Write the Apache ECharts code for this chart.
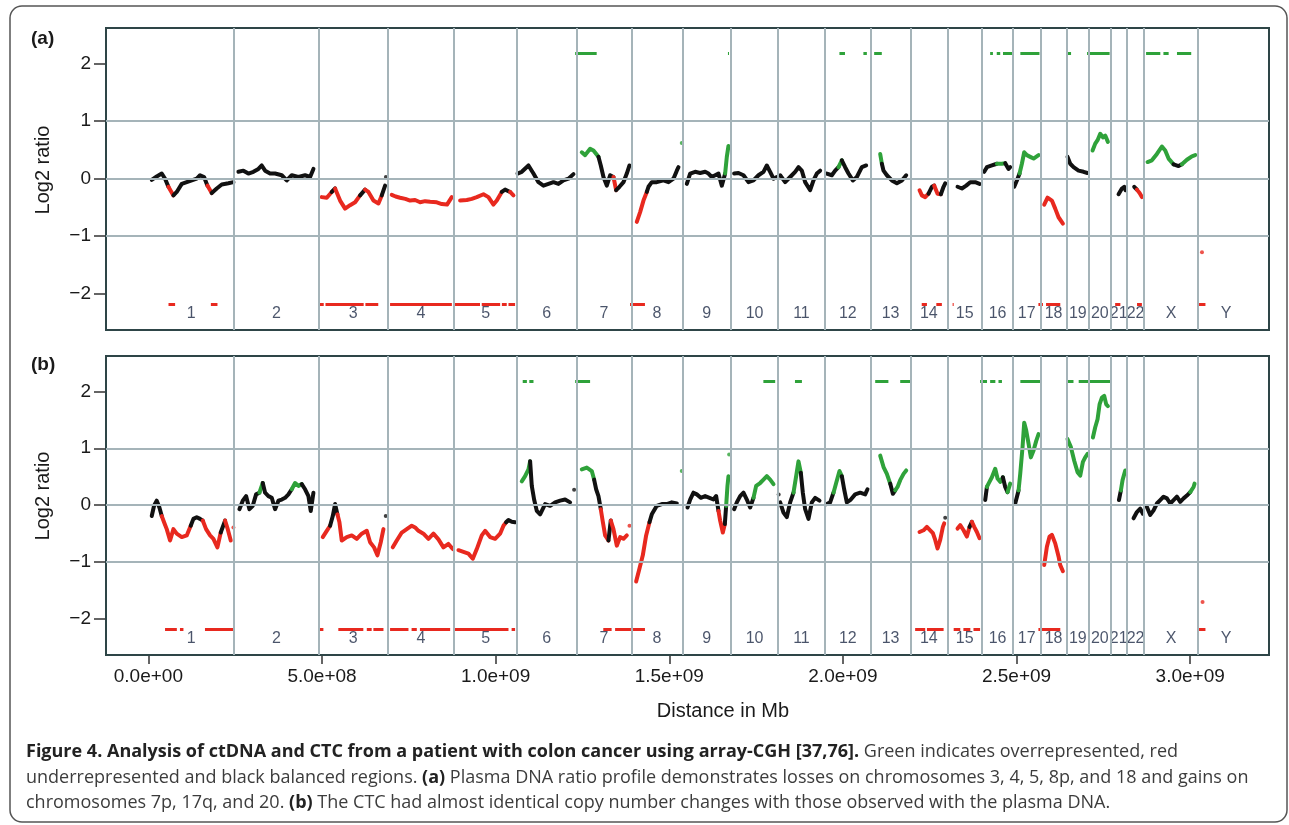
<!DOCTYPE html>
<html>
<head>
<meta charset="utf-8">
<script src="https://cdn.jsdelivr.net/npm/echarts@6.0.0/dist/echarts.min.js"></script>
<style>
  html, body { margin: 0; padding: 0; background: #fff; }
  #main { width: 1289px; height: 825px; }
</style>
</head>
<body>
<div id="main"></div>
<script>
// chromosomes (hg18 sizes, Mb)
const chromNames = ['1','2','3','4','5','6','7','8','9','10','11','12','13','14','15','16','17','18','19','20','21','22','X','Y'];
const chromSizes = [247.2,242.8,199.5,191.3,180.9,170.9,158.8,146.3,140.3,135.4,134.5,132.3,114.1,106.4,100.3,88.8,78.8,76.1,63.8,62.4,46.9,49.7,154.9,57.8];

const xTicks = [0, 5e8, 1e9, 1.5e9, 2e9, 2.5e9, 3e9];
const yTicks = [-2, -1, 0, 1, 2];

// smoothed log2 ratio profile, [position Mb, log2 ratio, class] k=balanced r=loss g=gain
// (a) plasma DNA
const profileA = [
  [9.7,-0.02,'k'],[24.1,0.04,'k'],[38.5,0.09,'k'],[48.1,0,'k'],[57.7,-0.14,'k'],[72.1,-0.29,'r'],[81.7,-0.23,'k'],[96.1,-0.09,'k'],[110.5,-0.06,'k'],[124.9,-0.03,'k'],[139.3,0,'k'],[148.9,0.06,'k'],[160.4,0.03,'k'],[170,-0.12,'k'],[182.5,-0.25,'r'],[196.9,-0.17,'k'],[211.3,-0.1,'k'],[230.5,-0.08,'k'],[245,-0.06,'k'],
  [259.3,0.12,'k'],[273.7,0.14,'k'],[288.1,0.09,'k'],[302.5,0.12,'k'],[316.9,0.17,'k'],[326.5,0.23,'k'],[336.1,0.14,'k'],[350.5,0.09,'k'],[364.9,0.09,'k'],[384.1,0.06,'k'],[398.5,-0.03,'k'],[412.9,0.06,'k'],[432.1,0.03,'k'],[451.3,0.06,'k'],[465.7,0.03,'k'],[475.3,0.17,'k'],
  [499.3,-0.32,'r'],[513.7,-0.33,'r'],[528.1,-0.23,'r'],[537.7,-0.17,'k'],[552.1,-0.38,'r'],[566.5,-0.52,'r'],[580.9,-0.46,'r'],[595.3,-0.41,'r'],[609.7,-0.29,'r'],[624.1,-0.19,'k'],[633.7,-0.23,'r'],[648.1,-0.38,'r'],[662.5,-0.43,'r'],[672.1,-0.29,'r'],[681.7,-0.12,'k'],
  [700.9,-0.28,'r'],[712,-0.31,'r'],[724.9,-0.33,'r'],[740,-0.35,'r'],[753.7,-0.38,'r'],[768,-0.37,'r'],[782.5,-0.41,'r'],[797,-0.39,'r'],[811.3,-0.4,'r'],[830.5,-0.41,'r'],[845,-0.44,'r'],[860,-0.45,'r'],[873.7,-0.32,'r'],
  [897.7,-0.38,'r'],[916.9,-0.37,'r'],[931.3,-0.35,'r'],[945.7,-0.32,'r'],[964.9,-0.27,'r'],[979.3,-0.32,'r'],[993.7,-0.45,'r'],[1003.3,-0.38,'r'],[1017.7,-0.23,'r'],[1027.3,-0.19,'k'],[1041.7,-0.23,'k'],[1051.3,-0.29,'r'],
  [1063,0.09,'k'],[1075.3,0.12,'k'],[1094.5,0.23,'k'],[1108.9,0.09,'k'],[1123.3,-0.06,'k'],[1137.7,-0.12,'k'],[1152.1,-0.09,'k'],[1166.5,-0.06,'k'],[1180.9,-0.09,'k'],[1195.3,-0.03,'k'],[1209.7,0,'k'],[1224.1,0.08,'k'],
  [1248.1,0.46,'g'],[1257.7,0.41,'g'],[1272.1,0.52,'g'],[1281.7,0.49,'g'],[1296.1,0.38,'g'],[1302.8,0.23,'k'],[1310.5,0.03,'k'],[1320.1,-0.12,'k'],[1329.7,0.06,'k'],[1339.3,0.03,'k'],[1347,-0.2,'r'],[1356.6,-0.14,'k'],[1368.1,-0.06,'k'],[1377.7,0.09,'k'],[1385.4,0.23,'k'],
  [1406.5,-0.75,'r'],[1416.1,-0.58,'r'],[1425.7,-0.38,'r'],[1435.3,-0.23,'r'],[1440.1,-0.14,'k'],[1449.7,-0.06,'k'],[1464.1,-0.06,'k'],[1483.3,-0.03,'k'],[1497.7,-0.06,'k'],[1512.1,0,'k'],[1521.7,0.14,'k'],[1526.5,0.2,'k'],
  [1550.5,-0.09,'k'],[1560.1,0.09,'k'],[1574.5,0.12,'k'],[1588.9,0.1,'k'],[1603.3,0.12,'k'],[1612.9,0.09,'k'],[1622.5,0.03,'k'],[1632.1,0.06,'k'],[1641.7,0.09,'k'],[1651.3,-0.12,'k'],[1660.9,0.09,'k'],[1665.7,0.38,'g'],[1670.5,0.57,'g'],
  [1686.8,0.09,'k'],[1699.3,0.1,'k'],[1713.7,0.06,'k'],[1728.1,-0.06,'k'],[1742.5,-0.03,'k'],[1756.9,0.06,'k'],[1771.3,0.12,'k'],[1780.9,0.23,'k'],[1790.5,0.12,'k'],[1800.1,0,'k'],[1809.7,0.03,'k'],
  [1819.3,0.06,'k'],[1833.7,-0.06,'k'],[1848.1,0.03,'k'],[1862.5,0.12,'k'],[1872.1,0.2,'k'],[1881.7,0.14,'k'],[1891.3,-0.06,'k'],[1905.7,-0.2,'k'],[1915.3,-0.03,'k'],[1924.9,0.09,'k'],[1934.5,0.14,'k'],
  [1953.7,0.09,'k'],[1968.1,0.06,'k'],[1977.7,0.14,'k'],[1987.3,0.2,'k'],[1996.9,0.32,'g'],[2006.5,0.2,'k'],[2016.1,0.09,'k'],[2028.6,-0.03,'k'],[2040.1,0.03,'k'],[2054.5,0.2,'k'],[2067,0.23,'k'],
  [2107.4,0.43,'g'],[2112.2,0.26,'g'],[2117,0.14,'k'],[2126.6,0.06,'k'],[2141,-0.03,'k'],[2155.4,-0.08,'k'],[2169.8,-0.03,'k'],[2182.3,0.06,'k'],
  [2220.7,-0.2,'k'],[2227.4,-0.29,'r'],[2237,-0.32,'r'],[2246.6,-0.26,'r'],[2256.2,-0.14,'k'],[2262.9,-0.12,'k'],[2272.5,-0.26,'r'],[2282.1,-0.27,'r'],[2289.8,-0.14,'k'],[2294.6,-0.08,'k'],
  [2330.1,-0.14,'k'],[2342.6,-0.17,'k'],[2355.1,-0.12,'k'],[2366.6,-0.06,'k'],[2381,-0.06,'k'],[2393.5,-0.09,'k'],
  [2406.9,0.12,'k'],[2414.6,0.2,'k'],[2429,0.23,'k'],[2443.4,0.26,'k'],[2457.8,0.26,'g'],[2467.4,0.27,'g'],[2477,0.17,'k'],[2481.8,0.2,'k'],
  [2493.3,-0.14,'k'],[2501,-0.03,'k'],[2508.7,0.09,'k'],[2515.4,0.26,'g'],[2522.1,0.46,'g'],[2529.8,0.41,'g'],[2539.4,0.38,'g'],[2549,0.35,'g'],[2563.4,0.41,'g'],
  [2579.7,-0.45,'r'],[2589.3,-0.33,'r'],[2601.8,-0.38,'r'],[2611.4,-0.52,'r'],[2621,-0.67,'r'],[2633.5,-0.78,'r'],
  [2646.9,0.38,'g'],[2654.6,0.26,'k'],[2664.2,0.2,'k'],[2678.6,0.14,'k'],[2693,0.12,'k'],[2704,0.1,'k'],
  [2718.9,0.49,'g'],[2726.6,0.61,'g'],[2733.3,0.67,'g'],[2741,0.78,'g'],[2748.7,0.72,'g'],[2755.4,0.75,'g'],[2763.1,0.64,'g'],
  [2793.8,-0.27,'r'],[2803.4,-0.17,'k'],[2810.1,-0.14,'k'],[2814,-0.2,'k'],
  [2838.9,-0.14,'k'],[2846.6,-0.19,'k'],[2854.3,-0.25,'r'],[2861,-0.32,'r'],
  [2877.3,0.29,'g'],[2889.8,0.32,'g'],[2904.2,0.43,'g'],[2918.6,0.56,'g'],[2928.2,0.49,'g'],[2937.8,0.35,'g'],[2952.2,0.25,'g'],[2966.6,0.22,'k'],[2976.2,0.25,'k'],[2990.6,0.33,'g'],[3005,0.39,'g'],[3014.6,0.41,'g']
];
const dotsA = [[684,0.03,'k'],[1536,0.62,'g'],[3034,-1.28,'r']];
const gainsA = [[1229,1291],[1669,1672],[1990,2006],[2059,2069],[2090,2112],[2424,2432],[2443,2453],[2461,2491],[2511,2566],[2645,2657],[2703,2768],[2873,2914],[2923,2938],[2962,3003]];
const lossesA = [[58,77],[180,199],[492,505],[510,620],[625,662],[696,874],[883,955],[960,1013],[1018,1032],[1037,1056],[1387,1430],[2227,2242],[2269,2285],[2316,2319],[2563,2576],[2585,2626],[2784,2799],[2847,2861],[3024,3044]];

// (b) CTC
const profileB = [
  [9.7,-0.19,'k'],[16.4,-0.01,'k'],[24.1,0.08,'k'],[31.8,-0.04,'k'],[38.5,-0.19,'k'],[45.2,-0.3,'r'],[52.9,-0.42,'r'],[62.5,-0.62,'r'],[72.1,-0.42,'r'],[81.7,-0.5,'r'],[96.1,-0.56,'r'],[110.5,-0.53,'r'],[122,-0.36,'r'],[129.7,-0.24,'k'],[139.3,-0.21,'k'],[148.9,-0.24,'k'],[156.6,-0.27,'k'],[166.2,-0.42,'r'],[177.7,-0.53,'r'],[187.3,-0.59,'r'],[198.8,-0.74,'r'],[208.4,-0.48,'r'],[220.9,-0.27,'k'],[228.6,-0.42,'r'],[237.2,-0.62,'r'],
  [262.2,-0.07,'k'],[271.8,0.08,'k'],[281.4,0.16,'k'],[291,-0.07,'k'],[300.6,-0.01,'k'],[310.2,0.19,'k'],[319.8,0.22,'k'],[329.4,0.39,'g'],[336.1,0.22,'k'],[345.7,0.16,'k'],[355.3,0.13,'k'],[364.9,-0.07,'k'],[374.5,0.08,'k'],[384.1,0.1,'k'],[393.7,0.13,'k'],[403.3,0.19,'k'],[412.9,0.28,'k'],[422.5,0.39,'g'],[432.1,0.34,'g'],[441.7,0.37,'g'],[451.3,0.28,'k'],[460.9,0.16,'k'],[467.6,-0.1,'k'],[475.3,0.22,'k'],
  [502.2,-0.56,'r'],[513.7,-0.45,'r'],[523.3,-0.36,'r'],[531,-0.19,'k'],[537.7,0.02,'k'],[544.4,-0.16,'k'],[550.2,-0.3,'r'],[556.9,-0.62,'r'],[571.3,-0.56,'r'],[585.7,-0.53,'r'],[600.1,-0.59,'r'],[614.5,-0.5,'r'],[628.9,-0.45,'r'],[638.5,-0.65,'r'],[650,-0.74,'r'],[659.6,-0.88,'r'],[669.2,-0.65,'r'],[676.9,-0.42,'r'],
  [703.8,-0.74,'r'],[715.3,-0.62,'r'],[729.7,-0.48,'r'],[744.1,-0.42,'r'],[758.5,-0.36,'r'],[768.1,-0.39,'r'],[777.7,-0.45,'r'],[792.1,-0.5,'r'],[806.5,-0.59,'r'],[820.9,-0.5,'r'],[835.3,-0.6,'r'],[849.7,-0.74,'r'],[864,-0.68,'r'],[876.6,-0.77,'r'],
  [892.9,-0.79,'r'],[907.3,-0.82,'r'],[921.7,-0.85,'r'],[934.2,-0.94,'r'],[945.7,-0.77,'r'],[960.1,-0.53,'r'],[969.7,-0.45,'r'],[984.1,-0.56,'r'],[998.5,-0.59,'r'],[1012.9,-0.5,'r'],[1022.5,-0.36,'r'],[1030.2,-0.3,'r'],[1036.9,-0.26,'k'],[1046.5,-0.29,'k'],[1056.1,-0.3,'k'],
  [1075.3,0.42,'g'],[1084.9,0.51,'g'],[1094.5,0.63,'g'],[1099.3,0.77,'g'],[1104.1,0.34,'k'],[1110.8,0.1,'k'],[1118.5,-0.1,'k'],[1128.1,-0.16,'k'],[1142.5,0.02,'k'],[1156.9,-0.01,'k'],[1171.3,0.05,'k'],[1185.7,0.08,'k'],[1200.1,0.1,'k'],[1214.5,0.05,'k'],
  [1248.1,0.63,'g'],[1262.5,0.66,'g'],[1276.9,0.6,'g'],[1283.6,0.45,'g'],[1289.4,0.28,'k'],[1296.1,0.16,'k'],[1302.8,-0.07,'k'],[1308.6,-0.29,'r'],[1315.3,-0.53,'r'],[1324.9,-0.62,'r'],[1331.6,-0.27,'k'],[1339.3,-0.42,'r'],[1348.9,-0.71,'r'],[1358.5,-0.56,'r'],[1368.1,-0.59,'r'],[1377.7,-0.53,'r'],
  [1404.6,-1.34,'r'],[1414.2,-1.11,'r'],[1423.8,-0.88,'r'],[1433.4,-0.53,'r'],[1443,-0.3,'r'],[1449.7,-0.16,'k'],[1464.1,-0.01,'k'],[1478.5,0.02,'k'],[1492.9,0.02,'k'],[1507.3,0.05,'k'],[1521.7,0.03,'k'],
  [1552.4,-0.04,'k'],[1560.1,0.1,'k'],[1569.7,0.22,'k'],[1579.3,0.19,'k'],[1590.8,0.13,'k'],[1603.3,0.16,'k'],[1615.8,0.13,'k'],[1627.3,0.1,'k'],[1635,0.16,'k'],[1641.7,-0.1,'k'],[1646.5,-0.27,'r'],[1654.2,-0.48,'r'],[1660,-0.33,'r'],[1663.8,-0.01,'k'],[1667.6,0.34,'g'],[1670.5,0.51,'g'],
  [1686.8,-0.07,'k'],[1694.5,0.05,'k'],[1704.1,0.16,'k'],[1713.7,0.22,'k'],[1723.3,0.1,'k'],[1732.9,-0.04,'k'],[1742.5,0.13,'k'],[1750.2,0.34,'g'],[1761.7,0.39,'g'],[1771.3,0.45,'g'],[1780.9,0.51,'g'],[1790.5,0.45,'g'],[1800.1,0.37,'g'],
  [1819.3,0.05,'k'],[1828.9,-0.13,'k'],[1838.5,-0.21,'k'],[1848.1,0.05,'k'],[1857.7,0.22,'k'],[1865.4,0.51,'g'],[1872.1,0.77,'g'],[1878.8,0.57,'g'],[1884.6,0.22,'k'],[1891.3,-0.07,'k'],[1900.9,-0.24,'k'],[1910.5,0.05,'k'],[1920.1,0.13,'k'],[1932.6,0.08,'k'],
  [1953.7,0.02,'k'],[1963.3,0.05,'k'],[1972.9,0.22,'k'],[1980.6,0.39,'g'],[1990.2,0.6,'g'],[1996.9,0.51,'g'],[2003.6,0.28,'k'],[2011.3,0.05,'k'],[2022.8,0.1,'k'],[2035.3,0.19,'k'],[2049.7,0.22,'k'],[2064.1,0.19,'k'],[2070.8,0.28,'k'],
  [2107.4,0.87,'g'],[2117,0.67,'g'],[2126.6,0.55,'g'],[2136.2,0.38,'g'],[2143.9,0.2,'k'],[2150.6,0.26,'k'],[2157.3,0.32,'g'],[2165,0.44,'g'],[2174.6,0.55,'g'],[2182.3,0.61,'g'],
  [2220.7,-0.47,'r'],[2232.2,-0.44,'r'],[2241.8,-0.38,'r'],[2251.4,-0.44,'r'],[2259.1,-0.49,'r'],[2265.8,-0.61,'r'],[2272.5,-0.76,'r'],[2280.2,-0.61,'r'],[2287.9,-0.38,'r'],[2291.7,-0.32,'r'],
  [2330.1,-0.41,'r'],[2337.8,-0.35,'r'],[2347.4,-0.44,'r'],[2357,-0.55,'r'],[2364.7,-0.38,'r'],[2371.4,-0.29,'k'],[2378.1,-0.38,'r'],[2385.8,-0.47,'r'],[2393.5,-0.58,'r'],
  [2409.8,0.09,'k'],[2414.6,0.32,'k'],[2419.4,0.38,'g'],[2429,0.49,'g'],[2438.6,0.64,'g'],[2445.3,0.47,'g'],[2453,0.41,'g'],[2460.7,0.49,'g'],[2467.4,0.32,'k'],[2474.1,0.23,'k'],[2481.8,0.38,'g'],
  [2496.2,0.03,'k'],[2505.8,0.26,'k'],[2510.6,0.55,'g'],[2517.3,1.02,'g'],[2522.1,1.45,'g'],[2527.9,1.31,'g'],[2534.6,1.08,'g'],[2541.3,0.84,'g'],[2549,0.96,'g'],[2556.7,1.13,'g'],[2563.4,1.25,'g'],
  [2579.7,-1.05,'r'],[2587.4,-0.73,'r'],[2595.1,-0.55,'r'],[2601.8,-0.52,'r'],[2611.4,-0.67,'r'],[2621,-0.9,'r'],[2625.8,-1.05,'r'],[2633.5,-1.16,'r'],
  [2646.9,1.16,'g'],[2656.5,1.02,'g'],[2666.1,0.78,'g'],[2675.7,0.58,'g'],[2683.4,0.52,'g'],[2691.1,0.76,'g'],[2697.8,0.84,'g'],[2704.5,0.9,'g'],
  [2719.9,1.19,'g'],[2726.6,1.37,'g'],[2733.3,1.51,'g'],[2739.1,1.77,'g'],[2745.8,1.89,'g'],[2752.5,1.92,'g'],[2758.3,1.77,'g'],[2763.1,1.74,'g'],
  [2794.8,0.09,'k'],[2800.5,0.26,'k'],[2805.3,0.44,'g'],[2813,0.61,'g'],
  [2837,-0.23,'k'],[2846.6,-0.12,'k'],[2856.2,-0.06,'k'],[2863.9,-0.15,'k'],
  [2875.4,-0.03,'k'],[2885,-0.17,'k'],[2894.6,-0.09,'k'],[2904.2,0.03,'k'],[2913.8,0.09,'k'],[2923.4,0.15,'k'],[2933,0.12,'k'],[2942.6,0.03,'k'],[2952.2,0.09,'k'],[2961.8,0.15,'k'],[2971.4,0.06,'k'],[2981,0.12,'k'],[2990.6,0.17,'k'],[3000.2,0.23,'k'],[3009.8,0.32,'g'],[3012.7,0.38,'g']
];
const dotsB = [[244.9,-0.39,'r'],[683.6,-0.19,'k'],[1226,0.27,'k'],[1385.4,-0.36,'r'],[1536,0.6,'g'],[1672.4,0.89,'g'],[1815,0.19,'k'],[2294.6,-0.22,'k'],[3035.7,-1.7,'r']];
const gainsB = [[1078,1090],[1097,1109],[1229,1272],[1771,1805],[1862,1882],[2093,2131],[2165,2194],[2395,2415],[2424,2439],[2448,2458],[2511,2568],[2645,2664],[2679,2770]];
const lossesB = [[48,82],[91,101],[163,247],[494,504],[547,619],[629,643],[648,677],[696,749],[758,773],[782,869],[883,1037],[1046,1056],[1310,1334],[1344,1430],[2208,2237],[2242,2290],[2319,2338],[2347,2367],[2376,2395],[2563,2626],[3024,3044]];

const COLORS = { k: '#111111', r: '#e8291f', g: '#2fa23a' };
const MB = 1e6;
const SEG_Y = 2.18;
const LABEL_Y = -2.34;
const X_MIN = -122 * MB, X_MAX = 3227 * MB;

const cum = [];
chromSizes.reduce((s, v) => { cum.push(s + v); return s + v; }, 0);
const chromOf = mb => { let i = 0; while (i < cum.length && mb >= cum[i]) i++; return i; };

// split profile into colour runs, broken at chromosome ends
function buildRuns(profile) {
  const runs = [];
  let cur = null;
  profile.forEach((p, i) => {
    const pt = [p[0] * MB, p[1]];
    const prev = profile[i - 1];
    if (!cur || chromOf(prev[0]) !== chromOf(p[0])) {
      cur = { c: p[2], pts: [pt] }; runs.push(cur);
    } else if (p[2] !== cur.c) {
      cur = { c: p[2], pts: [[prev[0] * MB, prev[1]], pt] }; runs.push(cur);
    } else {
      cur.pts.push(pt);
    }
  });
  // one-point runs are already covered by the run that follows them
  return runs.filter(r => r.pts.length > 1);
}

function sci(v) {
  if (v === 0) return '0.0e+00';
  const e = Math.floor(Math.log10(v) + 1e-9);
  return (v / Math.pow(10, e)).toFixed(1) + 'e+' + String(e).padStart(2, '0');
}

const labelData = chromNames.map((n, i) => {
  const start = i === 0 ? 0 : cum[i - 1];
  const end = i === chromNames.length - 1 ? 3184 : cum[i];
  return { name: n, value: [(start + end) / 2 * MB, LABEL_Y] };
});

function panelSeries(idx, profile, dots, gains, losses) {
  const ax = { xAxisIndex: idx, yAxisIndex: idx };
  return [
    Object.assign({
      type: 'line', data: [], silent: true, z: 1,
      markLine: {
        silent: true, symbol: ['none', 'none'], label: { show: false },
        lineStyle: { color: '#a5b4b9', width: 2, type: 'solid' },
        emphasis: { disabled: true },
        data: cum.slice(0, 23).map(b => ({ xAxis: b * MB })).concat([-1, 0, 1].map(v => ({ yAxis: v })))
      }
    }, ax),
    Object.assign({
      type: 'lines', coordinateSystem: 'cartesian2d', polyline: true, silent: true, z: 3,
      lineStyle: { width: 4, opacity: 1, join: 'round', cap: 'round' },
      data: buildRuns(profile).map(r => ({ coords: r.pts, lineStyle: { color: COLORS[r.c] } }))
    }, ax),
    Object.assign({
      type: 'lines', coordinateSystem: 'cartesian2d', silent: true, z: 3,
      lineStyle: { width: 3, opacity: 1 },
      data: gains.map(s => ({ coords: [[s[0] * MB, SEG_Y], [s[1] * MB, SEG_Y]], lineStyle: { color: COLORS.g } }))
        .concat(losses.map(s => ({ coords: [[s[0] * MB, -SEG_Y], [s[1] * MB, -SEG_Y]], lineStyle: { color: COLORS.r } })))
    }, ax),
    Object.assign({
      type: 'scatter', silent: true, z: 4, symbolSize: 4,
      data: dots.map(d => ({ value: [d[0] * MB, d[1]], itemStyle: { color: COLORS[d[2]] } }))
    }, ax),
    Object.assign({
      type: 'scatter', silent: true, z: 4, symbolSize: 1,
      itemStyle: { color: 'rgba(0,0,0,0)' },
      label: { show: true, position: 'inside', formatter: '{b}', color: '#1d2945', fontSize: 16, fontWeight: 500, fontFamily: 'Liberation Sans, Arial', textBorderWidth: 0 },
      data: labelData
    }, ax)
  ];
}

const FONT = 'Liberation Sans, Arial, sans-serif';
const CAP = "'Open Sans', 'Noto Sans', sans-serif";

function xAxisFor(idx, showLabels) {
  return {
    type: 'value', gridIndex: idx, min: X_MIN, max: X_MAX,
    axisLine: { show: false, onZero: false }, splitLine: { show: false },
    axisTick: { show: showLabels, customValues: xTicks, length: 9, lineStyle: { color: '#333', width: 1.5 } },
    axisLabel: { show: showLabels, customValues: xTicks, formatter: sci, margin: 12, fontSize: 19, color: '#1a1a1a', fontFamily: FONT }
  };
}
function yAxisFor(idx) {
  return {
    type: 'value', gridIndex: idx, min: -2.63, max: 2.62,
    axisLine: { show: false, onZero: false }, splitLine: { show: false },
    axisTick: { show: true, customValues: yTicks, length: 12, lineStyle: { color: '#333', width: 1.5 } },
    axisLabel: { customValues: yTicks, margin: 15, fontSize: 19, color: '#1a1a1a', fontFamily: FONT,
      formatter: v => (v < 0 ? '\u2212' + (-v) : String(v)) }
  };
}

const caption = [
  '{b|Figure 4. Analysis of ctDNA and CTC from a patient with colon cancer using array-CGH [37,76].}{n| Green indicates overrepresented, red}',
  '{n|underrepresented and black balanced regions. }{b|(a)}{n| Plasma DNA ratio profile demonstrates losses on chromosomes 3, 4, 5, 8p, and 18 and gains on}',
  '{n|chromosomes 7p, 17q, and 20. }{b|(b)}{n| The CTC had almost identical copy number changes with those observed with the plasma DNA.}'
];
const capRich = {
  b: { fontFamily: CAP, fontSize: 18, fontWeight: 'bold', fill: '#222' },
  n: { fontFamily: CAP, fontSize: 18, fill: '#3c3c3c' }
};

const chart = echarts.init(document.getElementById('main'), null, { renderer: 'canvas' });
chart.setOption({
  animation: false,
  backgroundColor: '#fff',
  grid: [
    { left: 106, top: 28, width: 1163, height: 302, show: true, borderColor: '#2e4547', borderWidth: 2, backgroundColor: 'transparent', z: 5 },
    { left: 106, top: 356, width: 1163, height: 299, show: true, borderColor: '#2e4547', borderWidth: 2, backgroundColor: 'transparent', z: 5 }
  ],
  xAxis: [xAxisFor(0, false), xAxisFor(1, true)],
  yAxis: [yAxisFor(0), yAxisFor(1)],
  series: panelSeries(0, profileA, dotsA, gainsA, lossesA).concat(panelSeries(1, profileB, dotsB, gainsB, lossesB)),
  graphic: [
    { type: 'rect', shape: { x: 10, y: 6, width: 1277, height: 816, r: 12 }, style: { fill: 'none', stroke: '#555', lineWidth: 1.5 }, silent: true },
    { type: 'text', x: 31, y: 39, style: { text: '(a)', font: 'bold 19px ' + FONT, fill: '#1a1a1a', verticalAlign: 'middle' } },
    { type: 'text', x: 31, y: 365, style: { text: '(b)', font: 'bold 19px ' + FONT, fill: '#1a1a1a', verticalAlign: 'middle' } },
    { type: 'text', x: 43, y: 170, rotation: Math.PI / 2, style: { text: 'Log2 ratio', font: '20px ' + FONT, fill: '#1a1a1a', align: 'center', verticalAlign: 'middle' } },
    { type: 'text', x: 43, y: 496, rotation: Math.PI / 2, style: { text: 'Log2 ratio', font: '20px ' + FONT, fill: '#1a1a1a', align: 'center', verticalAlign: 'middle' } },
    { type: 'text', x: 723, y: 711, style: { text: 'Distance in Mb', font: '20px ' + FONT, fill: '#1a1a1a', align: 'center', verticalAlign: 'middle' } },
    { type: 'text', x: 26, y: 752, style: { text: caption[0], rich: capRich, verticalAlign: 'middle' } },
    { type: 'text', x: 26, y: 778, style: { text: caption[1], rich: capRich, verticalAlign: 'middle' } },
    { type: 'text', x: 26, y: 803, style: { text: caption[2], rich: capRich, verticalAlign: 'middle' } }
  ]
});
</script>
</body>
</html>
